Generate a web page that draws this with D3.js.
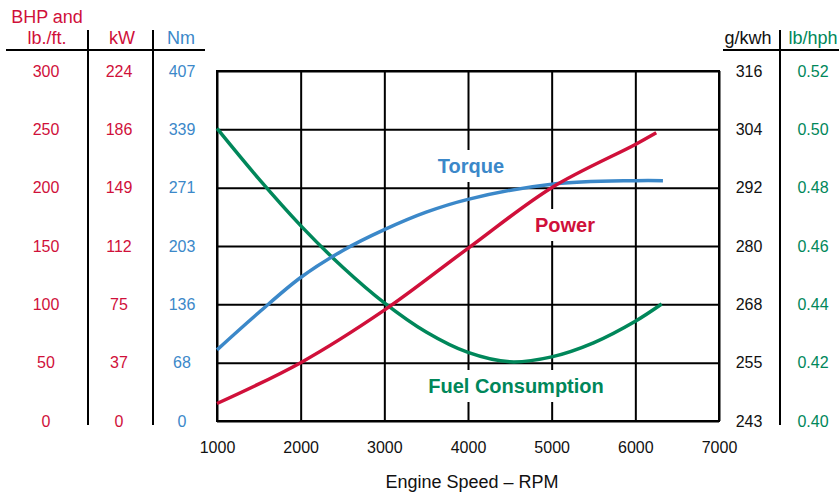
<!DOCTYPE html>
<html>
<head>
<meta charset="utf-8">
<script src="https://cdn.jsdelivr.net/npm/d3@7"></script>
<style>
  body { margin: 0; background: #fff; }
  text { font-family: "Liberation Sans", Arial, sans-serif; }
</style>
</head>
<body>
<svg id="chart" width="839" height="492"></svg>
<script>
// ---- data ----
var rpmTicks = [1000, 2000, 3000, 4000, 5000, 6000, 7000];
var bhpTicks = [0, 50, 100, 150, 200, 250, 300];
var kwTicks = [0, 37, 75, 112, 149, 186, 224];
var nmTicks = [0, 68, 136, 203, 271, 339, 407];
var gkwhTicks = [243, 255, 268, 280, 292, 304, 316];
var lbhphTicks = [0.40, 0.42, 0.44, 0.46, 0.48, 0.50, 0.52];

// power in BHP, torque in lb./ft.
var powerRpm = [1000, 2000, 3000, 4000, 5000, 6000, 6250];
var powerVal = [15, 50, 95, 148, 200, 237, 247];
var torqueRpm = [1000, 1500, 2000, 2500, 3000, 3500, 4000, 5000, 6000, 6330];
var torqueVal = [61, 93, 123, 146, 164, 179, 190, 203, 206, 206];
// fuel consumption in lb/hph
var fuelRpm = [1000, 1500, 2000, 2500, 3000, 3500, 4000, 4500, 5000, 5500, 6000, 6315];
var fuelVal = [0.5003, 0.4830, 0.4670, 0.4528, 0.4405, 0.4305, 0.4235, 0.4203, 0.4220, 0.4268, 0.4342, 0.4401];

var RED = "#d0103a", BLUE = "#3b88c9", GREEN = "#00875a";

var svg = d3.select("#chart");
var pLeft = 217, pRight = 719, pTop = 71, pBottom = 421;

var x = d3.scaleLinear().domain([1000, 7000]).range([pLeft, pRight]);
var y = d3.scaleLinear().domain([0, 300]).range([pBottom, pTop]);
var yFuel = d3.scaleLinear().domain([0.40, 0.52]).range([pBottom, pTop]);

// grid
svg.append("g")
  .attr("transform", "translate(0," + pBottom + ")")
  .call(d3.axisBottom(x).tickValues(rpmTicks).tickSize(-(pBottom - pTop)).tickFormat(""))
  .call(function(g) { g.select(".domain").remove(); })
  .selectAll("line").attr("stroke", "#000").attr("stroke-width", 2);
svg.append("g")
  .attr("transform", "translate(" + pLeft + ",0)")
  .call(d3.axisLeft(y).tickValues(bhpTicks).tickSize(-(pRight - pLeft)).tickFormat(""))
  .call(function(g) { g.select(".domain").remove(); })
  .selectAll("line").attr("stroke", "#000").attr("stroke-width", 2);
svg.append("rect")
  .attr("x", pLeft).attr("y", pTop).attr("width", pRight - pLeft).attr("height", pBottom - pTop)
  .attr("fill", "none").attr("stroke", "#000").attr("stroke-width", 2);

// column axes
function column(cx, scale, vals, labels, color) {
  var g = svg.append("g").attr("transform", "translate(" + cx + ",0)")
    .call(d3.axisRight(scale).tickValues(vals).tickSize(0).tickPadding(0)
      .tickFormat(function(d, i) { return labels[i]; }));
  g.select(".domain").remove();
  g.selectAll("text").attr("text-anchor", "middle").attr("x", 0)
    .attr("fill", color).style("font-size", "16px")
    .style("font-family", "Liberation Sans, Arial, sans-serif");
}
column(46, y, bhpTicks, bhpTicks, RED);
column(119, y, bhpTicks, kwTicks, RED);
column(182, y, bhpTicks, nmTicks, BLUE);
column(749, y, bhpTicks, gkwhTicks, "#111");
column(813, y, bhpTicks, lbhphTicks.map(function(d) { return d.toFixed(2); }), GREEN);

// x axis labels
var xa = svg.append("g").attr("transform", "translate(0,447)")
  .call(d3.axisBottom(x).tickValues(rpmTicks).tickSize(0).tickPadding(0).tickFormat(d3.format("d")));
xa.select(".domain").remove();
xa.selectAll("text").attr("y", 0).attr("dy", "0.35em").attr("fill", "#111")
  .style("font-size", "16px").style("font-family", "Liberation Sans, Arial, sans-serif");

svg.append("text").attr("x", 472).attr("y", 482).attr("dy", "0.35em")
  .attr("text-anchor", "middle").attr("fill", "#111").style("font-size", "18px")
  .text("Engine Speed \u2013 RPM");

// header rules and separators
var rules = [[6, 50, 205, 50], [723, 50, 839, 50], [88, 30, 88, 425], [153, 30, 153, 425], [780, 30, 780, 425]];
svg.selectAll(".rule").data(rules).enter().append("line")
  .attr("x1", function(d) { return d[0]; }).attr("y1", function(d) { return d[1]; })
  .attr("x2", function(d) { return d[2]; }).attr("y2", function(d) { return d[3]; })
  .attr("stroke", "#000").attr("stroke-width", 2);

var heads = [
  ["BHP and", 47, 17, RED], ["lb./ft.", 47, 38, RED], ["kW", 122, 38, RED],
  ["Nm", 181, 38, BLUE], ["g/kwh", 748, 38, "#111"], ["lb/hph", 813, 38, GREEN]
];
svg.selectAll(".head").data(heads).enter().append("text")
  .attr("x", function(d) { return d[1]; }).attr("y", function(d) { return d[2]; })
  .attr("dy", "0.35em").attr("text-anchor", "middle")
  .attr("fill", function(d) { return d[3]; }).style("font-size", "18px")
  .text(function(d) { return d[0]; });

// series labels with white boxes
var labels = [["Torque", 471, 166, BLUE], ["Power", 565, 225, RED], ["Fuel Consumption", 516, 386, GREEN]];
labels.forEach(function(l) {
  var t = svg.append("text").attr("x", l[1]).attr("y", l[2]).attr("dy", "0.35em")
    .attr("text-anchor", "middle").attr("fill", l[3])
    .style("font-size", "20px").style("font-weight", "bold").text(l[0]);
  var b = t.node().getBBox();
  svg.insert("rect", function() { return t.node(); })
    .attr("x", b.x - 3).attr("y", l[2] - 16).attr("width", b.width + 6).attr("height", 32)
    .attr("fill", "#fff");
});

// curves
function curve(xs, vs, scale, color) {
  var pts = xs.map(function(d, i) { return [x(d), scale(vs[i])]; });
  svg.append("path").datum(pts)
    .attr("d", d3.line().curve(d3.curveCatmullRom.alpha(0.5)))
    .attr("fill", "none").attr("stroke", color).attr("stroke-width", 3.5);
}
curve(fuelRpm, fuelVal, yFuel, GREEN);
curve(torqueRpm, torqueVal, y, BLUE);
curve(powerRpm, powerVal, y, RED);
</script>
</body>
</html>
